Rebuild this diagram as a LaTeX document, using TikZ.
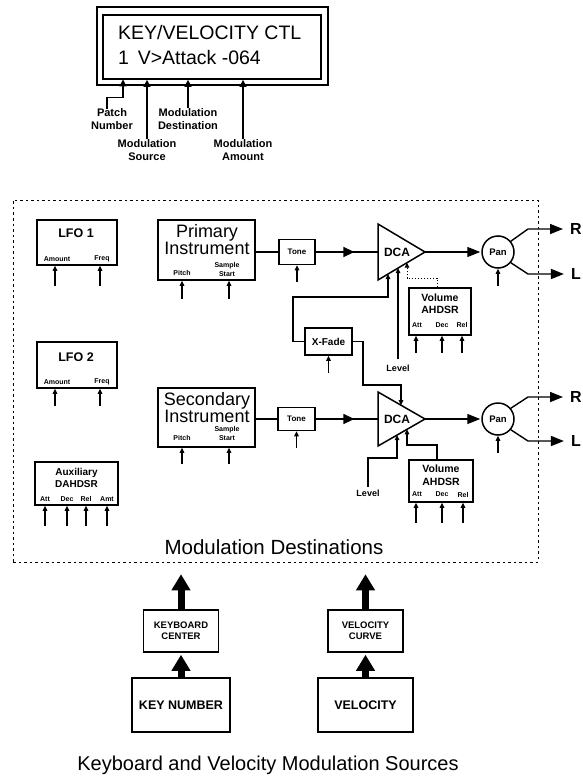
\documentclass[tikz,border=0pt]{standalone}
\usepackage{fontspec}
\setmainfont{Liberation Sans}
\usetikzlibrary{arrows.meta,decorations.markings}
\newcommand{\fsz}[2]{\fontsize{#1}{#2}\selectfont}
\begin{document}
\begin{tikzpicture}[x=1pt,y=-1pt,
  box/.style={draw, line width=1.5pt, inner sep=0pt},
  lbl/.style={inner sep=0pt, align=center},
  tiny/.style={lbl, font=\fsz{7}{8}\bfseries},
  sarr/.style={line width=1.2pt, -{Triangle[width=7pt,length=7pt]}},
  tarr/.style={line width=1.1pt, -{Triangle[width=4.5pt,length=5pt]}},
  bigarr/.style={line width=7pt, -{Triangle[width=18pt,length=16pt]}},
  midarr/.style={line width=1.4pt, postaction={decorate}, decoration={markings, mark=at position #1 with {\arrow{Triangle[width=10pt,length=11pt]}}}},
  outarr/.style={line width=1.4pt, -{Triangle[width=10pt,length=13pt]}},
  io/.style={lbl, font=\fsz{16}{17}\bfseries},
]
\useasboundingbox (0,0) rectangle (582,778);

% ---------- display ----------
\node[draw, line width=1.2pt, minimum width=231pt, minimum height=78pt] (dispout) at (212.5,46) {};
\node[draw, line width=1.7pt, minimum width=218pt, minimum height=64pt] (dispin) at (212,47) {};
\node[anchor=base west, inner sep=0pt, font=\fsz{19.5}{20}] (line1) at (118,40) {KEY/VELOCITY CTL};
\node[anchor=base west, inner sep=0pt, font=\fsz{19.5}{20}] (line2) at (118,65) {1\hspace{0.45em}V>Attack -064};

\node[lbl, font=\fsz{11}{13}\bfseries] (patch) at (112,119.5) {Patch\\Number};
\node[lbl, font=\fsz{11}{13}\bfseries] (msrc) at (147,150) {Modulation\\Source};
\node[lbl, font=\fsz{11}{13}\bfseries] (mdst) at (188,119) {Modulation\\Destination};
\node[lbl, font=\fsz{11}{13}\bfseries] (mamt) at (243,150) {Modulation\\Amount};
\coordinate (tpatch) at (123,79.5);
\draw[sarr] ([xshift=-5pt]patch.north) -- ++(0,-11) -| (tpatch);
\draw[sarr] (msrc.north) -- (msrc.north |- dispin.south);
\draw[sarr] (mdst.north) -- (mdst.north |- dispin.south);
\draw[sarr] (mamt.north) -- (mamt.north |- dispin.south);

% ---------- destinations frame ----------
\node[draw, line width=1pt, dash pattern=on 2.5pt off 3pt, minimum width=525pt, minimum height=362pt] (frame) at (275.5,381) {};

% LFO 1
\node[box, minimum width=80pt, minimum height=45pt] (lfo1) at (77,242.5) {};
\node[lbl, font=\fsz{12.5}{14}\bfseries] (lfo1t) at (76,233) {LFO 1};
\node[tiny] (lfo1a) at (57,259) {Amount};
\node[tiny] (lfo1f) at (102,259) {Freq};
\foreach \x in {55,100} \draw[tarr] (lfo1.south -| \x,0) ++(0,20) -- (lfo1.south -| \x,0);

% LFO 2
\node[box, minimum width=80pt, minimum height=46pt] (lfo2) at (77,365) {};
\node[lbl, font=\fsz{12.5}{14}\bfseries] (lfo2t) at (76,357) {LFO 2};
\node[tiny] (lfo2a) at (57,382) {Amount};
\node[tiny] (lfo2f) at (102,382) {Freq};
\foreach \x in {55,100} \draw[tarr] (lfo2.south -| \x,0) ++(0,17) -- (lfo2.south -| \x,0);

% Auxiliary DAHDSR
\node[box, minimum width=83pt, minimum height=43pt] (aux) at (76.5,483.5) {};
\node[lbl, font=\fsz{10}{11.5}\bfseries] (auxt) at (76.5,478) {Auxiliary\\DAHDSR};
\node[tiny] (auxa) at (45,499) {Att};
\node[tiny] (auxd) at (67,499) {Dec};
\node[tiny] (auxr) at (86,499) {Rel};
\node[tiny] (auxm) at (107,499) {Amt};
\foreach \x in {45,67,86,107} \draw[tarr] (aux.south -| \x,0) ++(0,20) -- (aux.south -| \x,0);

% ---------- row 1 ----------
\node[box, minimum width=97pt, minimum height=60pt] (prim) at (206.5,250) {};
\node[lbl, font=\fsz{18}{16}] (primt) at (207,240) {Primary\\Instrument};
\node[tiny] (primp) at (182,273) {Pitch};
\node[tiny, font=\fsz{7}{9}\bfseries] (prims) at (227,269.5) {Sample\\Start};
\foreach \x in {182,229} \draw[tarr] (prim.south -| \x,0) ++(0,18) -- (prim.south -| \x,0);

\node[box, minimum width=36pt, minimum height=25pt] (tone1) at (297,252) {};
\node[lbl, font=\fsz{8}{9}\bfseries] (tone1t) at (297,252) {Tone};
\draw[tarr] (tone1.south) ++(0,17) -- (tone1.south);
\draw[line width=1.4pt] (prim.east |- tone1.west) -- (tone1.west);

\coordinate (d1a) at (378,224); \coordinate (d1b) at (378,280); \coordinate (d1c) at (425,252);
\draw[line width=1.5pt, line join=miter] (d1a) -- (d1c) -- (d1b) -- cycle;
\node[lbl, font=\fsz{12}{13}\bfseries] (dca1) at (397,252) {DCA};
\coordinate (d1in1) at (388,274.0);
\coordinate (d1in2) at (398,268.1);
\coordinate (d1in3) at (407,262.7);
\draw[midarr=0.62] (tone1.east) -- (d1a |- tone1.east);

\node[draw, circle, line width=1.5pt, minimum size=32pt, inner sep=0pt] (pan1) at (498,252) {};
\node[lbl, font=\fsz{9.5}{10}\bfseries] (pan1t) at (498,252) {Pan};
\draw[outarr, shorten >=1pt] (d1c) -- (pan1.west);
\draw[tarr] (pan1.south) ++(0,17) -- (pan1.south);
\node[io] (r1) at (576,229) {R};
\node[io] (l1) at (576,274) {L};
\draw[outarr, shorten >=7pt] (pan1.40) -- (528,229) -- (r1.west);
\draw[outarr, shorten >=7pt] (pan1.-40) -- (528,274) -- (l1.west);

% volume 1
\node[box, minimum width=62pt, minimum height=47pt] (vol1) at (440,311.5) {};
\node[lbl, font=\fsz{10.5}{12}\bfseries] (vol1t) at (440,304) {Volume\\AHDSR};
\node[tiny] (vol1a) at (417,325) {Att};
\node[tiny] (vol1d) at (442,325) {Dec};
\node[tiny] (vol1r) at (462,325) {Rel};
\foreach \x in {416,442,462} \draw[tarr] (vol1.south -| \x,0) ++(0,17) -- (vol1.south -| \x,0);
\draw[tarr, line width=0.9pt, dash pattern=on 1.6pt off 1.4pt] (vol1.north -| 437,0) -- (437,278) -| (d1in3);

% X-Fade and level 1
\node[box, minimum width=47pt, minimum height=27pt] (xfade) at (328.5,341.5) {};
\node[lbl, font=\fsz{10}{11}\bfseries] (xfadet) at (328.5,341.5) {X-Fade};
\draw[tarr] (xfade.south) ++(0,17) -- (xfade.south);
\draw[tarr] (xfade.west) -- (293,341.5) -- (293,297) -- (388,297) -- (d1in1);
\node[lbl, font=\fsz{9}{10}\bfseries] (lev1) at (398,368) {Level};
\draw[tarr] ([yshift=5pt]lev1.north) -- (d1in2);

% ---------- row 2 ----------
\node[box, minimum width=97pt, minimum height=59pt] (sec) at (206.5,417.5) {};
\node[lbl, font=\fsz{18}{16}] (sect) at (207,408) {Secondary\\Instrument};
\node[tiny] (secp) at (182,438) {Pitch};
\node[tiny, font=\fsz{7}{9}\bfseries] (secs) at (227,433.5) {Sample\\Start};
\foreach \x in {182,229} \draw[tarr] (sec.south -| \x,0) ++(0,16) -- (sec.south -| \x,0);

\node[box, minimum width=37pt, minimum height=23pt] (tone2) at (296.5,419) {};
\node[lbl, font=\fsz{8}{9}\bfseries] (tone2t) at (296.5,419) {Tone};
\draw[tarr] (tone2.south) ++(0,17) -- (tone2.south);
\draw[line width=1.4pt] (sec.east |- tone2.west) -- (tone2.west);

\coordinate (d2a) at (378,392); \coordinate (d2b) at (378,446); \coordinate (d2c) at (425,419);
\draw[line width=1.5pt, line join=miter] (d2a) -- (d2c) -- (d2b) -- cycle;
\node[lbl, font=\fsz{12}{13}\bfseries] (dca2) at (397,419) {DCA};
\coordinate (d2in0) at (401,405.2);
\coordinate (d2in2) at (397,435.1);
\coordinate (d2in3) at (407,429.3);
\draw[midarr=0.62] (tone2.east) -- (d2a |- tone2.east);
\draw[tarr] (xfade.east) -- (363,341.5) -- (363,385) -- (401,385) -- (d2in0);

\node[draw, circle, line width=1.5pt, minimum size=32pt, inner sep=0pt] (pan2) at (498,419) {};
\node[lbl, font=\fsz{9.5}{10}\bfseries] (pan2t) at (498,419) {Pan};
\draw[outarr, shorten >=1pt] (d2c) -- (pan2.west);
\draw[tarr] (pan2.south) ++(0,17) -- (pan2.south);
\node[io] (r2) at (576,397) {R};
\node[io] (l2) at (576,441) {L};
\draw[outarr, shorten >=7pt] (pan2.40) -- (528,397) -- (r2.west);
\draw[outarr, shorten >=7pt] (pan2.-40) -- (528,441) -- (l2.west);

\node[lbl, font=\fsz{9}{10}\bfseries] (lev2) at (368,493) {Level};
\draw[tarr] ([yshift=3pt]lev2.north) -- (368,458) -- (397,458) -- (d2in2);

\node[box, minimum width=64pt, minimum height=42pt] (vol2) at (441,481) {};
\node[lbl, font=\fsz{10.5}{12.5}\bfseries] (vol2t) at (441,475) {Volume\\AHDSR};
\node[tiny] (vol2a) at (417,494.5) {Att};
\node[tiny] (vol2d) at (442,494.5) {Dec};
\node[tiny] (vol2r) at (463,494.5) {Rel};
\foreach \x in {416,442,463} \draw[tarr] (vol2.south -| \x,0) ++(0,20) -- (vol2.south -| \x,0);
\draw[tarr] (vol2.north -| 437,0) -- (437,445) -| (d2in3);

\node[lbl, font=\fsz{20.5}{22}] (desttitle) at (274,547) {Modulation Destinations};

% ---------- sources ----------
\node[box, minimum width=75pt, minimum height=42pt] (kc) at (181,631) {};
\node[lbl, font=\fsz{9.5}{11}\bfseries] (kct) at (181,630.5) {KEYBOARD\\CENTER};
\node[box, minimum width=98pt, minimum height=54pt] (kn) at (181,705) {};
\node[lbl, font=\fsz{12.5}{14}\bfseries] (knt) at (181,705) {KEY NUMBER};
\node[box, minimum width=75pt, minimum height=42pt] (vc) at (365.5,631) {};
\node[lbl, font=\fsz{9.5}{11}\bfseries] (vct) at (365.5,630.5) {VELOCITY\\CURVE};
\node[box, minimum width=95pt, minimum height=54pt] (vel) at (365.5,705) {};
\node[lbl, font=\fsz{12.5}{14}\bfseries] (velt) at (365.5,705) {VELOCITY};

\draw[bigarr] (kc.north) -- ++(0,-35);
\draw[bigarr, shorten >=2pt] (kn.north) -- (kc.south);
\draw[bigarr] (vc.north) -- ++(0,-35);
\draw[bigarr, shorten >=2pt] (vel.north) -- (vc.south);

\node[lbl, font=\fsz{20}{22}] (caption) at (268,765) {Keyboard and Velocity Modulation Sources};
\end{tikzpicture}
\end{document}
